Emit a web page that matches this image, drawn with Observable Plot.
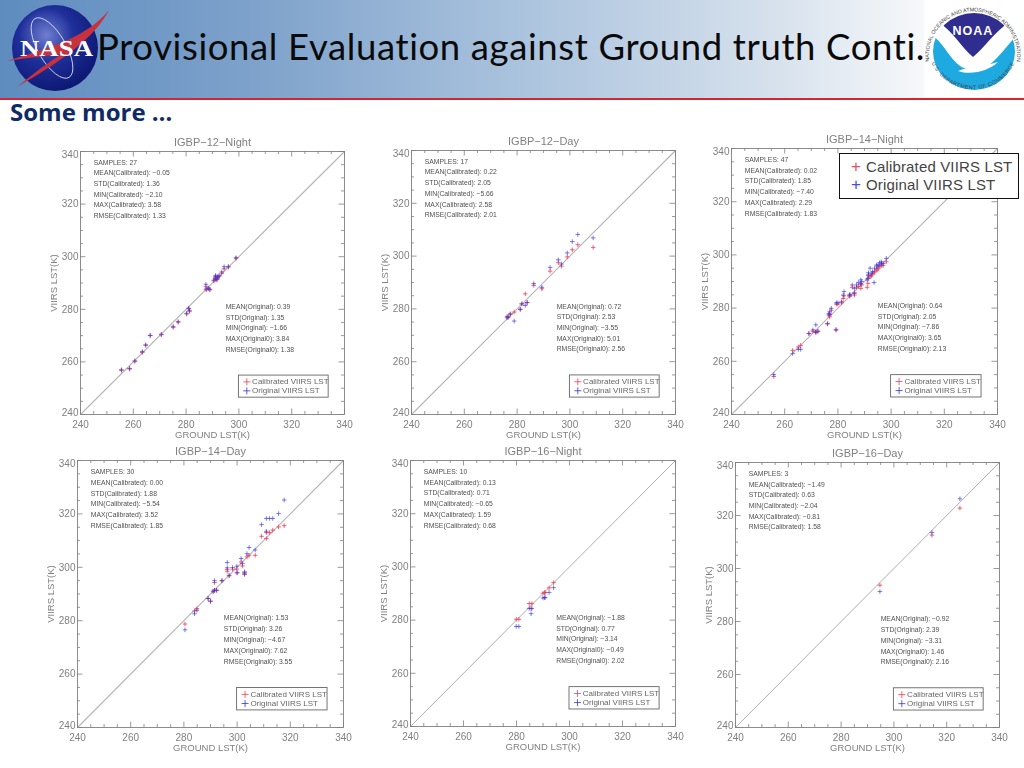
<!DOCTYPE html>
<html><head><meta charset="utf-8">
<script src="https://cdn.jsdelivr.net/npm/d3@7"></script>
<script src="https://cdn.jsdelivr.net/npm/@observablehq/plot@0.6"></script>
<style>
html,body{margin:0;padding:0;background:#fff;overflow:hidden}
#page{position:relative;width:1024px;height:768px;overflow:hidden}
#header{position:absolute;left:0;top:0;width:1024px;height:98px;background:linear-gradient(90deg,#5e8cbf 0%,#7ea2cb 25%,#a9c2dd 50%,#d5e0ec 75%,#f6f8fa 90%,#fff 100%)}
#redline{position:absolute;left:0;top:98px;width:1024px;height:2px;background:#d9232e}
#title{position:absolute;left:97px;top:24px;font:36.5px "Lato",sans-serif;color:#0a0a0a;white-space:nowrap;letter-spacing:.62px}
#some{position:absolute;left:10px;top:95px;font:bold 24px "Open Sans",sans-serif;color:#0f2b66;white-space:nowrap}
.panel{position:absolute;filter:blur(.35px)}
.panel svg{overflow:visible;background:transparent}
#bigLegend{position:absolute;left:839px;top:153px;width:178px;height:44px;background:#fff;border:1.5px solid #111;font:15px "Liberation Sans",sans-serif;color:#444;letter-spacing:.15px}
#bigLegend div{position:absolute;left:26px;white-space:nowrap}
#bigLegend b{position:absolute;left:-15px;font-weight:normal;font-size:17px;letter-spacing:0;line-height:17px}
</style></head><body>
<div id="page">
 <div id="header"></div>
 <div id="redline"></div>
 <div id="title">Provisional Evaluation against Ground truth Conti.</div>
 <svg id="nasa" width="120" height="98" style="position:absolute;left:0;top:0">
  <defs><radialGradient id="g" cx=".4" cy=".35" r=".7"><stop offset="0" stop-color="#6f7fd0"/><stop offset=".45" stop-color="#1f2f9a"/><stop offset="1" stop-color="#0b1670"/></radialGradient></defs>
  <circle cx="55" cy="48" r="43" fill="url(#g)"/>
  <ellipse cx="52" cy="48" rx="14" ry="34" transform="rotate(-30 52 48)" fill="none" stroke="#dfe6f5" stroke-width=".8"/>
  <path d="M7,61 C40,50 85,40 109,10 C95,38 60,62 17,87 C40,68 55,58 62,54 C45,56 25,58 7,61Z" fill="#c8323f"/>
  <text x="20" y="56" font-family="Liberation Serif" font-weight="bold" font-size="24" fill="#fff" textLength="73" lengthAdjust="spacingAndGlyphs">NASA</text>
 </svg>
 <svg id="noaa" width="100" height="98" style="position:absolute;left:924px;top:0">
  <rect width="100" height="98" fill="#fff"/>
  <defs>
   <path id="ringTop" d="M5.5,62 A44,44 0 1 1 92.5,62"/>
   <path id="ringBot" d="M8,64 A46,46 0 0 0 90,64"/>
   <clipPath id="cc"><ellipse cx="50" cy="51.5" rx="41" ry="38.5"/></clipPath>
  </defs>
  <g clip-path="url(#cc)">
   <rect width="100" height="98" fill="#fff"/>
   <path d="M5,34 C18,38 26,62 40,68 C46,71 54,71 60,68 C72,62 82,46 95,33 L95,98 L5,98Z" fill="#1fa9e1"/>
   <path d="M34,71 C46,66 62,66 74,62 C66,70 48,76 34,71Z" fill="#fff"/>
   <path d="M8,8 L92,8 L85,23 C72,30 60,48 49,57 C38,48 28,30 15,23Z" fill="#2f2e8f"/>
  </g>
  <text x="49" y="35" text-anchor="middle" font-family="Liberation Sans" font-weight="bold" font-size="12.5" letter-spacing="1" fill="#fff">NOAA</text>
  <text font-family="Liberation Sans" font-size="5.3" fill="#444"><textPath href="#ringTop" startOffset="50%" text-anchor="middle">NATIONAL OCEANIC AND ATMOSPHERIC ADMINISTRATION</textPath></text>
  <text font-family="Liberation Sans" font-size="5.3" fill="#444" letter-spacing=".5"><textPath href="#ringBot" startOffset="50%" text-anchor="middle">U.S. DEPARTMENT OF COMMERCE</textPath></text>
 </svg>
 <div id="some">Some more …</div>
 <div id="panels"></div>
 <div id="bigLegend">
  <div style="top:4px"><b style="color:#e8505f">+</b>Calibrated VIIRS LST</div>
  <div style="top:22px"><b style="color:#4a4ad8">+</b>Original VIIRS LST</div>
 </div>
</div>
<script>
// ---- axis ticks ----
const majorTicks = [240, 260, 280, 300, 320, 340];
const minorTicks = [245, 250, 255, 265, 270, 275, 285, 290, 295, 305, 310, 315, 325, 330, 335];
const identityEnds = [240, 340];
const legendNames = ["Calibrated VIIRS LST", "Original VIIRS LST"];

// ---- panel titles ----
const titles = ["IGBP−12−Night", "IGBP−12−Day", "IGBP−14−Night", "IGBP−14−Day", "IGBP−16−Night", "IGBP−16−Day"];

// ---- IGBP-12 night ----
const ground12N = [255.5,258.6,260.6,263.4,264.7,266.4,270.6,275.1,277.0,280.2,281.0,281.3,287.5,287.6,288.4,289.0,290.5,291.0,291.2,291.4,291.8,292.0,292.5,293.5,294.4,296.0,298.9];
const calibrated12N = [256.8,257.3,260.2,263.6,266.3,270.0,270.3,273.1,275.1,278.2,280.2,279.2,288.6,287.4,287.9,287.4,290.8,291.7,292.5,291.2,291.4,292.0,292.5,293.7,295.4,296.0,299.4];
const original12N = [257.0,257.5,260.4,263.9,266.5,270.1,270.5,273.5,275.3,278.5,280.4,279.6,289.5,287.7,288.1,287.6,291.1,292.2,292.9,291.4,291.8,292.4,292.8,294.2,296.2,296.3,299.6];

// ---- IGBP-12 day ----
const ground12D = [276.2,276.6,277.4,278.9,281.2,281.8,283.1,283.8,286.3,289.4,292.5,295.6,296.8,299.0,300.9,303.0,308.8];
const calibrated12D = [277.1,276.9,278.1,278.8,279.9,281.9,285.7,282.4,288.9,287.6,294.3,297.5,296.2,299.7,302.4,304.3,303.3];
const original12D = [276.6,276.9,278.0,275.4,279.8,281.9,281.3,282.4,289.6,288.2,295.7,298.6,297.0,301.2,305.5,308.2,306.9];

// ---- IGBP-14 night ----
const ground14N = [255.9,263.0,265.1,266.0,269.1,270.6,271.7,271.7,272.5,276.1,276.6,276.9,276.9,277.5,279.3,279.4,280.0,281.4,282.0,282.3,284.4,284.5,285.4,286.2,286.2,287.0,287.7,288.6,288.6,288.9,291.0,291.3,291.4,291.5,292.1,292.6,293.0,293.6,293.8,294.5,294.8,295.2,295.7,296.3,296.4,298.2,297.0];
const calibrated14N = [254.3,264.1,265.4,266.0,270.5,271.3,271.1,270.9,271.3,274.0,277.4,277.4,276.7,279.2,272.0,281.5,281.5,282.0,283.6,284.6,284.6,284.5,287.8,285.8,284.9,287.8,288.1,289.1,287.4,288.7,287.8,289.3,291.2,292.2,291.8,292.1,292.8,293.3,293.7,294.6,294.3,295.0,295.6,295.9,296.6,297.4,296.0];
const original14N = [255.0,262.9,264.5,264.5,270.4,271.8,273.7,270.9,271.3,274.2,277.9,278.6,277.7,279.9,271.7,282.0,282.0,282.4,284.9,286.2,284.9,285.2,288.7,287.4,285.5,288.7,289.6,290.6,289.1,290.0,290.6,291.2,292.5,293.3,295.0,292.9,293.7,289.6,295.0,296.2,295.8,296.2,297.1,297.4,296.6,298.7,296.8];

// ---- IGBP-14 day ----
const ground14D = [280.4,284.0,284.9,289.1,290.0,291.0,291.5,291.5,292.3,294.3,296.3,296.3,297.0,298.3,299.9,300.0,301.5,302.0,302.8,303.7,304.5,306.8,309.2,311.0,311.0,312.2,313.4,315.6,317.7,302.8];
const calibrated14D = [278.75,283.6,284.5,288.3,287.3,291.1,294.3,291.4,291.4,295.0,298.5,299.2,296.8,299.3,299.3,297.9,302.0,300.5,297.3,303.9,304.5,304.5,311.6,310.8,313.0,313.0,313.9,315.1,315.6,298.0];
const original14D = [276.6,282.6,283.9,288.3,287.3,290.8,295.0,291.4,291.4,295.0,301.8,299.8,297.0,299.9,300.4,298.0,303.3,301.4,298.3,305.1,307.4,306.5,316.0,313.5,318.3,318.3,318.3,320.1,325.2,297.6];

// ---- IGBP-16 night ----
const ground16N = [279.9,280.9,284.8,285.5,285.8,290.0,290.6,290.8,292.3,294.0];
const calibrated16N = [280.3,280.3,286.2,284.3,286.2,290.1,290.3,290.4,292.1,294.1];
const original16N = [277.6,277.6,284.4,282.4,284.4,288.3,288.4,288.5,290.4,292.2];

// ---- IGBP-16 day ----
const ground16D = [294.7,314.4,325.0];
const calibrated16D = [293.7,312.6,322.8];
const original16D = [291.3,313.6,326.3];

// ---- statistics text ----
const statsCalibrated = [
 ["SAMPLES: 27","MEAN(Calibrated): −0.05","STD(Calibrated): 1.36","MIN(Calibrated): −2.10","MAX(Calibrated): 3.58","RMSE(Calibrated): 1.33"],
 ["SAMPLES: 17","MEAN(Calibrated): 0.22","STD(Calibrated): 2.05","MIN(Calibrated): −5.66","MAX(Calibrated): 2.58","RMSE(Calibrated): 2.01"],
 ["SAMPLES: 47","MEAN(Calibrated): 0.02","STD(Calibrated): 1.85","MIN(Calibrated): −7.40","MAX(Calibrated): 2.29","RMSE(Calibrated): 1.83"],
 ["SAMPLES: 30","MEAN(Calibrated): 0.00","STD(Calibrated): 1.88","MIN(Calibrated): −5.54","MAX(Calibrated): 3.52","RMSE(Calibrated): 1.85"],
 ["SAMPLES: 10","MEAN(Calibrated): 0.13","STD(Calibrated): 0.71","MIN(Calibrated): −0.65","MAX(Calibrated): 1.59","RMSE(Calibrated): 0.68"],
 ["SAMPLES: 3","MEAN(Calibrated): −1.49","STD(Calibrated): 0.63","MIN(Calibrated): −2.04","MAX(Calibrated): −0.81","RMSE(Calibrated): 1.58"]
];
const statsOriginal = [
 ["MEAN(Original): 0.39","STD(Original): 1.35","MIN(Original): −1.66","MAX(Original0): 3.84","RMSE(Original0): 1.38"],
 ["MEAN(Original): 0.72","STD(Original): 2.53","MIN(Original): −3.55","MAX(Original0): 5.01","RMSE(Original0): 2.56"],
 ["MEAN(Original): 0.64","STD(Original): 2.05","MIN(Original): −7.86","MAX(Original0): 3.65","RMSE(Original0): 2.13"],
 ["MEAN(Original): 1.53","STD(Original): 3.26","MIN(Original): −4.67","MAX(Original0): 7.62","RMSE(Original0): 3.55"],
 ["MEAN(Original): −1.88","STD(Original): 0.77","MIN(Original): −3.14","MAX(Original0): −0.49","RMSE(Original0): 2.02"],
 ["MEAN(Original): −0.92","STD(Original): 2.39","MIN(Original): −3.31","MAX(Original0): 1.46","RMSE(Original0): 2.16"]
];

const series = [
 [ground12N, calibrated12N, original12N],
 [ground12D, calibrated12D, original12D],
 [ground14N, calibrated14N, original14N],
 [ground14D, calibrated14D, original14D],
 [ground16N, calibrated16N, original16N],
 [ground16D, calibrated16D, original16D]
];

// frame box of each panel on the page: left, top, width, height
const frames = [
 [80,151,264,263],[411,150,264,264],[731,148,266,266],
 [77,460,266,267],[410,460,265,266],[735,462,264,265]
];
const lineStyles = [["#b5b5b5",1.1],["#b5b5b5",1.1],["#b5b5b5",1.1],["#b5b5b5",1.1],["#8a8a8a",.7],["#8a8a8a",.7]];

const RED = "#ee3f55", BLUE = "#3535d8", INK = "#808080", STAT = "#505050";
const FONT = "Liberation Sans";
const mL = 40, mT = 18, mR = 14, mB = 32;
const MAJOR = 5.5, MINOR = 3;

const holder = document.getElementById("panels");
titles.forEach((title, i) => {
  const [left, top, w, h] = frames[i];
  const [gx, cal, ori] = series[i];
  const pts = gx.map((g, k) => ({g, c: cal[k], o: ori[k]}));
  const upper = statsCalibrated[i].map((t, k) => ({t, y: 335.8 - 4.05 * k}));
  const lower = statsOriginal[i].map((t, k) => ({t, y: 280.9 - 4.05 * k}));
  const legend = legendNames.map((t, k) => ({t, y: 252.4 - 3.4 * k, col: k ? BLUE : RED}));
  const [lc, lw] = lineStyles[i];
  const tk = {stroke: INK, strokeWidth: .8};
  const labelOpts = {tickSize: 0, fontSize: 10, fill: INK, label: null};
  const vx = d => d;
  const svg = Plot.plot({
    width: w + mL + mR, height: h + mT + mB,
    marginLeft: mL, marginRight: mR, marginTop: mT, marginBottom: mB,
    style: {fontFamily: FONT, background: "transparent"},
    x: {domain: identityEnds, axis: null},
    y: {domain: identityEnds, axis: null},
    marks: [
      Plot.line(identityEnds, {x: vx, y: vx, stroke: lc, strokeWidth: lw}),
      Plot.tickX(majorTicks, {x: vx, insetTop: h - MAJOR, ...tk}),
      Plot.tickX(majorTicks, {x: vx, insetBottom: h - MAJOR, ...tk}),
      Plot.tickX(minorTicks, {x: vx, insetTop: h - MINOR, ...tk}),
      Plot.tickX(minorTicks, {x: vx, insetBottom: h - MINOR, ...tk}),
      Plot.tickY(majorTicks, {y: vx, insetRight: w - MAJOR, ...tk}),
      Plot.tickY(majorTicks, {y: vx, insetLeft: w - MAJOR, ...tk}),
      Plot.tickY(minorTicks, {y: vx, insetRight: w - MINOR, ...tk}),
      Plot.tickY(minorTicks, {y: vx, insetLeft: w - MINOR, ...tk}),
      Plot.frame({stroke: INK, strokeWidth: .9}),
      Plot.axisX(majorTicks, {anchor: "bottom", tickPadding: 6, ...labelOpts}),
      Plot.axisY([260, 280, 300, 320], {anchor: "left", tickPadding: 2, ...labelOpts}),
      Plot.axisY([340], {anchor: "left", tickPadding: 2, dy: 3, ...labelOpts}),
      Plot.axisY([240], {anchor: "left", tickPadding: 2, dy: -2, ...labelOpts}),
      Plot.text([title], {x: () => 290, y: () => 340, dy: -9, text: vx, fontSize: 11, fill: INK}),
      Plot.text(["GROUND LST(K)"], {x: () => 290, y: () => 240, dy: 20, text: vx, fontSize: 9.5, fill: INK}),
      Plot.text(["VIIRS LST(K)"], {x: () => 240, y: () => 290, dx: -27, rotate: -90, text: vx, fontSize: 9.5, fill: INK}),
      Plot.dot(pts, {x: "g", y: "c", symbol: "plus", r: 1.6, stroke: RED, strokeWidth: .8}),
      Plot.dot(pts, {x: "g", y: "o", symbol: "plus", r: 1.6, stroke: BLUE, strokeWidth: .8, strokeOpacity: .8}),
      Plot.text(upper, {x: () => 245, y: "y", text: "t", textAnchor: "start", fontSize: 6.8, fill: STAT}),
      Plot.text(lower, {x: () => 295, y: "y", text: "t", textAnchor: "start", fontSize: 6.8, fill: STAT}),
      Plot.rect([0], {x1: () => 300, x2: () => 334, y1: () => 246.4, y2: () => 254.8, fill: "none", stroke: "#666", strokeWidth: .9}),
      Plot.dot(legend, {x: () => 303, y: "y", symbol: "plus", r: 2.4, stroke: "col", strokeWidth: .8}),
      Plot.text(legend, {x: () => 305, y: "y", text: "t", textAnchor: "start", fontSize: 8, fill: "#666"})
    ]
  });
  const wrap = document.createElement("div");
  wrap.className = "panel";
  wrap.style.left = (left - mL) + "px";
  wrap.style.top = (top - mT) + "px";
  wrap.appendChild(svg);
  holder.appendChild(wrap);
});
</script>
</body></html>
